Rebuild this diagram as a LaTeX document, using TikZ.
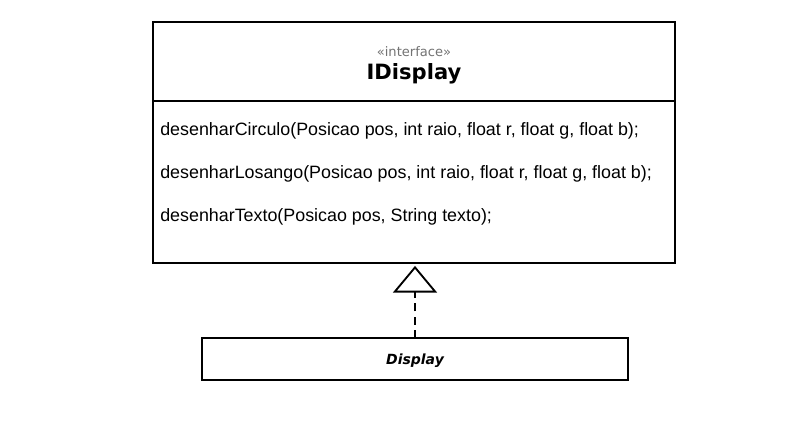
\documentclass[tikz,border=0pt]{standalone}
\usepackage{fontspec}
\setmainfont{Liberation Sans}
\newfontfamily\verdanalike{DejaVu Sans}
\usetikzlibrary{arrows.meta}
\begin{document}
\begin{tikzpicture}[x=0.75pt, y=-0.75pt, line join=miter, >={Triangle[open,width=33pt,length=20pt]},
	umlbox/.style={draw, line width=1.4pt, inner sep=0pt, outer sep=0pt, fill=white},
	methodtxt/.style={anchor=west, inner sep=0pt, font=\fontsize{13.4}{15}\selectfont}]
	\useasboundingbox (0,0) rectangle (794,447);
	% interface
	\node[umlbox, minimum width=522*0.75pt, minimum height=79*0.75pt] (ihead) at (414,61.5) {};
	\node[umlbox, minimum width=522*0.75pt, minimum height=162*0.75pt, anchor=north] (ibody) at (ihead.south) {};
	\node[inner sep=0pt, text=black!55, font=\verdanalike\fontsize{9.8}{11}\selectfont] (stereo) at (414,52) {«interface»};
	\node[inner sep=0pt, font=\verdanalike\bfseries\fontsize{15.8}{17}\selectfont] (iname) at (414,74) {IDisplay};
	\node[methodtxt] (m1) at (160,131) {desenharCirculo(Posicao pos, int raio, float r, float g, float b);};
	\node[methodtxt] (m2) at (160,174) {desenharLosango(Posicao pos, int raio, float r, float g, float b);};
	\node[methodtxt] (m3) at (160,217) {desenharTexto(Posicao pos, String texto);};
	% class
	\node[umlbox, minimum width=426*0.75pt, minimum height=42*0.75pt] (disp) at (415,359) {};
	\node[inner sep=0pt, font=\verdanalike\bfseries\itshape\fontsize{10.5}{12}\selectfont] (dname) at (415,360.5) {Display};
	\draw[->, line width=1.4pt, dash pattern=on 6pt off 4pt, shorten >=2.2pt] (disp.north) -- (disp.north |- ibody.south);
\end{tikzpicture}
\end{document}
